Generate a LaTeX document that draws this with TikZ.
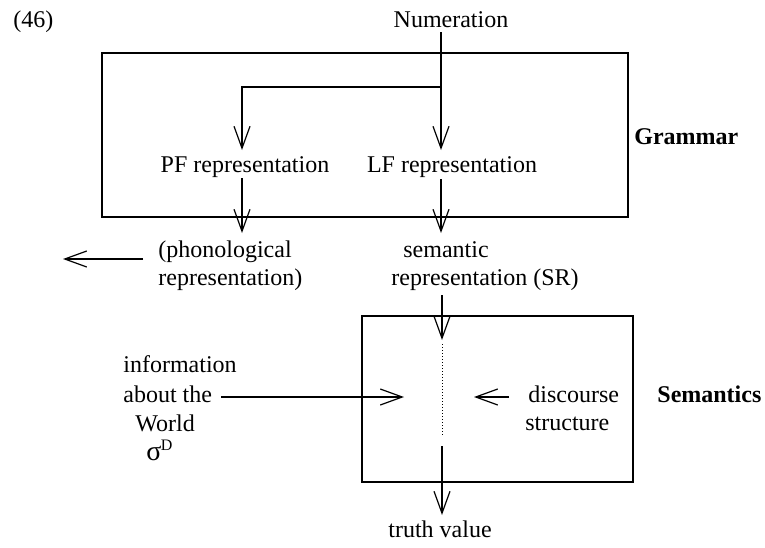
\documentclass[tikz,border=0pt]{standalone}
\usepackage{fontspec}
\setmainfont{Liberation Serif}
\usetikzlibrary{arrows.meta}
\begin{document}
\begin{tikzpicture}[x=0.5pt,y=-0.5pt,
  txt/.style={inner sep=0pt, font=\fontsize{12}{14}\selectfont},
  boldtxt/.style={inner sep=0pt, font=\fontsize{12}{14}\selectfont\bfseries},
  arr/.style={line width=0.6pt, -{Straight Barb[length=11pt,width=8pt,line width=0.6pt]}},
  ln/.style={line width=0.6pt},
  frame/.style={draw, line width=0.6pt},
  dotline/.style={line width=0.4pt, dash pattern=on 0.5pt off 1pt}]
\useasboundingbox (0,0) rectangle (765,547);

% boxes
\coordinate (g1) at (102,53);
\coordinate (g2) at (628,217);
\draw[frame] (g1) rectangle (g2);
\coordinate (s1) at (362,316);
\coordinate (s2) at (633,482);
\draw[frame] (s1) rectangle (s2);

% texts
\node[txt, anchor=base west] (ex) at (13,27) {(46)};
\node[txt, anchor=base] (num) at (451,27) {Numeration};
\node[txt, anchor=base] (pf) at (245,172) {PF representation};
\node[txt, anchor=base] (lf) at (452,172) {LF representation};
\node[boldtxt, anchor=base west] (gram) at (634,144) {Grammar};
\node[txt, anchor=base west] (phon1) at (158,257) {(phonological};
\node[txt, anchor=base west] (phon2) at (158,285) {representation)};
\node[txt, anchor=base west] (sem1) at (403,257) {semantic};
\node[txt, anchor=base west] (sem2) at (391,285) {representation (SR)};
\node[txt, anchor=base west] (info1) at (123,372) {information};
\node[txt, anchor=base west] (info2) at (123,402) {about the};
\node[txt, anchor=base west] (world) at (135,431) {World};
\node[txt, anchor=base west] (sigma) at (146,460) {{\fontsize{14}{14}\selectfont σ}\kern-0.3pt\raisebox{5pt}{\fontsize{8}{8}\selectfont D}};
\node[txt, anchor=base west] (disc1) at (528,402) {discourse};
\node[txt, anchor=base west] (disc2) at (525,430) {structure};
\node[boldtxt, anchor=base west] (semx) at (657,402) {Semantics};
\node[txt, anchor=base] (truth) at (440,537) {truth value};

% connector points
\coordinate (ntop) at (441,32);
\coordinate (split) at (441,87);
\coordinate (lfin) at (441,150);
\coordinate (pfcorner) at (242,87);
\coordinate (pfin) at (242,150);
\coordinate (pfout) at (242,178);
\coordinate (pfend) at (242,233);
\coordinate (lfout) at (441,179);
\coordinate (lfend) at (441,233);
\coordinate (ptail) at (143,259);
\coordinate (phead) at (63,259);
\coordinate (srout) at (442,295);
\coordinate (srin) at (442,340);
\coordinate (dtop) at (442,344);
\coordinate (dbot) at (442,437);
\coordinate (tout) at (442,446);
\coordinate (tin) at (442,515);
\coordinate (itail) at (221,397);
\coordinate (ihead) at (404,397);
\coordinate (dtail) at (509,397);
\coordinate (dhead) at (474,397);

% connectors
\draw[arr] (ntop) -- (split) -- (lfin);
\draw[arr] (split) -- (pfcorner) -- (pfin);
\draw[arr] (pfout) -- (pfend);
\draw[arr] (lfout) -- (lfend);
\draw[arr] (ptail) -- (phead);
\draw[arr] (srout) -- (srin);
\draw[dotline] (dtop) -- (dbot);
\draw[arr] (tout) -- (tin);
\draw[arr] (itail) -- (ihead);
\draw[arr] (dtail) -- (dhead);
\end{tikzpicture}
\end{document}
